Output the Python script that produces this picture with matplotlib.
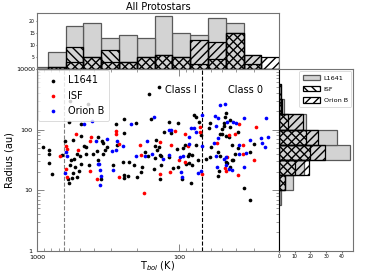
import numpy as np
import matplotlib
matplotlib.use('Agg')
import matplotlib.pyplot as plt

# ---- scatter data: T_bol (K) and radius (au) per region ----
l1641_tbol = [585, 438, 163, 600, 490, 279, 245, 203, 158, 490, 371, 245, 640, 560, 349, 147,
              908, 829, 829, 829, 785, 668, 585, 609, 594, 569, 525, 560, 578, 553, 525, 502,
              490, 511, 540, 471, 455, 452, 435, 407, 380, 371, 342, 333, 342, 324, 357, 294,
              276, 248, 245, 245, 229, 225, 209, 200, 185, 182, 175, 166, 149, 149, 150, 139,
              47, 48, 79, 76, 119, 103, 129, 115, 73, 71, 61, 62, 49, 49, 44, 44,
              50, 52, 50, 47, 45, 143, 137, 134, 139, 119, 134, 137, 111, 102, 104, 90,
              87, 85, 82, 85, 82, 92, 94, 76, 74, 96, 83, 65.5, 61, 60, 54, 52,
              47, 46, 43, 42, 53, 54, 44, 41, 39, 43, 32, 35.5, 32, 30, 39]
l1641_rad = [299, 261, 385, 134, 122, 125, 147, 129, 149, 78, 76, 89, 65, 67, 65, 67,
             51, 46, 39, 28, 18.4, 38, 26, 15.1, 12.9, 15.7, 16.6, 19.4, 31, 33, 39, 37,
             27, 20.7, 24, 53, 51, 39, 26, 40, 45, 31, 39, 46, 59, 52, 15.2, 26,
             55, 29, 17.7, 15.7, 17.3, 29, 26, 16.6, 20, 24, 43, 37, 54, 34, 22, 508,
             189, 163, 173, 163, 134, 127, 92, 89, 131, 81, 129, 105, 129, 114, 144, 111,
             101, 86, 83, 78, 76, 46, 38, 37, 52, 35, 26, 15.2, 23, 24, 48, 27,
             37, 40, 38, 27.7, 26, 55, 49, 55, 32, 15.2, 12.9, 33, 35, 52, 43, 36,
             29, 28, 31, 32, 21, 17.3, 24, 40, 49, 55, 43, 10.7, 6.9, 58, 92]

isf_tbol = [531, 421, 279, 279, 424, 693, 624, 617, 624, 617, 519, 424, 380, 266, 266, 190,
            187, 177, 138, 108, 92, 72, 72, 38, 41, 29, 45, 114, 117, 137, 92, 100,
            87, 69, 54.5, 46, 48, 47, 38.5, 36, 30, 36]
isf_rad = [83, 74, 94, 86, 65, 37, 53, 47, 22, 16.6, 46, 20.7, 15.2, 58, 16.6, 55,
           38, 8.9, 63, 96, 86, 111, 92, 122, 86, 111, 81, 55, 20, 18.2, 29, 31,
           53, 18.2, 60, 35, 23, 21, 17.7, 40, 31, 55]

orionb_tbol = [467, 410, 220, 150, 385, 322, 276, 170, 627, 617, 634, 374, 367, 361, 357, 359,
               299, 281, 291, 251, 203, 175, 157, 52, 48, 56, 54, 35.5, 24.7, 70, 118, 115,
               83, 79, 55, 46, 42, 40, 54, 85, 32, 26.9, 23.8, 76, 130, 118, 99.5, 95,
               85, 69, 98, 96, 74, 71, 57, 55, 49, 47, 47, 54.5, 45, 43, 35, 34,
               26.3, 25, 38, 38]
orionb_rad = [123, 137, 122, 161, 65, 69, 65, 65, 42, 37, 19, 27, 27, 21.5, 17.3, 12.1,
              45, 46, 21.5, 54, 37, 37, 39, 254, 264, 169, 157, 153, 157, 173, 98, 98,
              107, 107, 114, 134, 131, 127, 72, 74, 68, 72, 76, 92, 33, 38, 35, 36,
              58, 53, 19.7, 16.6, 19, 20.7, 59, 36, 33, 35, 26, 24, 22, 21.5, 24, 41,
              59, 51, 55, 40]

# ---- top histogram (all protostars), log10 T_bol bins, low -> high ----
tbol_edges_log = [1.3, 1.425, 1.55, 1.675, 1.8, 1.925, 2.05, 2.175, 2.3, 2.425,
                  2.55, 2.675, 2.8, 2.925, 3.05]
top_l1641 = [0, 6, 19, 21, 14, 15, 22, 13, 14, 13, 19, 18, 7, 1]
top_isf = [0, 2, 15, 4, 2, 5, 6, 5, 3, 8, 5, 9, 1, 0]
top_orionb = [5, 6, 15, 11, 12, 5, 6, 5, 3, 3, 5, 3, 1, 0]

# ---- right histogram, log10 radius bins, low -> high ----
rad_edges_log = [0.75, 1.0, 1.25, 1.5, 1.75, 2.0, 2.25, 2.5, 2.75]
right_l1641 = [1, 9, 16, 45, 37, 17, 3, 1]
right_isf = [0, 4, 10, 20, 17, 6, 1, 0]
right_orionb = [0, 4, 19, 29, 25, 15, 2, 1]

spine_col = '0.45'

fig = plt.figure(figsize=(3.72, 2.79), dpi=100)
ax = fig.add_axes([0.0995, 0.1014, 0.6505, 0.6513])
axt = fig.add_axes([0.0995, 0.7527, 0.6505, 0.2007])
axr = fig.add_axes([0.75, 0.1014, 0.2, 0.6513])

# main scatter
ax.scatter(l1641_tbol, l1641_rad, s=7, c='k', lw=0, label='L1641', zorder=3)
ax.scatter(isf_tbol, isf_rad, s=7, c='r', lw=0, label='ISF', zorder=3)
ax.scatter(orionb_tbol, orionb_rad, s=7, c='b', lw=0, label='Orion B', zorder=3)
ax.axvline(650, color='0.5', ls='--', lw=0.8)
ax.axvline(70, color='k', ls='--', lw=0.8)
ax.set_xscale('log')
ax.set_yscale('log')
ax.set_xlim(1000, 20)
ax.set_ylim(1, 1000)
ax.set_xticks([1000, 100])
ax.set_xticklabels(['1000', '100'])
ax.set_yticks([1, 10, 100, 1000])
ax.set_yticklabels(['1', '10', '100', '1000'])
ax.tick_params(which='both', direction='in', top=True, right=True, labelsize=4.6,
               color=spine_col)
ax.tick_params(axis='x', pad=3)
ax.tick_params(axis='y', pad=3.5)
ax.tick_params(which='major', length=5, width=0.6)
ax.tick_params(which='minor', length=2.5, width=0.5)
ax.set_xlabel('T$_{bol}$ (K)', fontsize=7, labelpad=0)
ax.set_ylabel('Radius (au)', fontsize=7, labelpad=1)
ax.text(0.66, 0.885, 'Class I', transform=ax.transAxes, ha='right', va='center', fontsize=7)
ax.text(0.79, 0.885, 'Class 0', transform=ax.transAxes, ha='left', va='center', fontsize=7)
leg = ax.legend(loc='upper left', fontsize=7, borderaxespad=0.15, labelspacing=0.55,
                handletextpad=0.5, markerscale=1.0, scatterpoints=1, borderpad=0.5)
leg.get_frame().set_linewidth(0.6)
for sp in ax.spines.values():
    sp.set_color(spine_col)
    sp.set_linewidth(0.8)

# top histogram
tb = 10 ** np.array(tbol_edges_log)
tc = np.sqrt(tb[:-1] * tb[1:])
axt.hist(tc, bins=tb, weights=top_l1641, color='lightgray', edgecolor='0.35', lw=0.9)
axt.hist(tc, bins=tb, weights=top_isf, fill=False, hatch='\\\\\\\\', edgecolor='k', lw=0.9)
axt.hist(tc, bins=tb, weights=top_orionb, fill=False, hatch='////', edgecolor='k', lw=0.9)
axt.set_xscale('log')
axt.set_xlim(1000, 20)
axt.set_ylim(0, 23.2)
axt.set_yticks([0, 5, 10, 15, 20])
axt.tick_params(axis='x', which='both', bottom=False, labelbottom=False)
axt.tick_params(axis='y', labelsize=3.3, length=1, pad=0.5, color=spine_col)
axt.set_title('All Protostars', fontsize=7, pad=2)
for sp in axt.spines.values():
    sp.set_color(spine_col)
    sp.set_linewidth(0.8)

# right histogram
rb = 10 ** np.array(rad_edges_log)
rc = np.sqrt(rb[:-1] * rb[1:])
axr.hist(rc, bins=rb, weights=right_l1641, orientation='horizontal', color='lightgray',
         edgecolor='0.35', lw=0.9, label='L1641')
axr.hist(rc, bins=rb, weights=right_isf, orientation='horizontal', fill=False,
         hatch='\\\\\\\\', edgecolor='k', lw=0.9, label='ISF')
axr.hist(rc, bins=rb, weights=right_orionb, orientation='horizontal', fill=False,
         hatch='////', edgecolor='k', lw=0.9, label='Orion B')
axr.set_yscale('log')
axr.set_ylim(1, 1000)
axr.set_xlim(0, 47.3)
axr.set_xticks([0, 10, 20, 30, 40])
axr.tick_params(axis='y', which='both', left=False, labelleft=False)
axr.tick_params(axis='x', labelsize=3.3, length=1.5, pad=1, color=spine_col)
lr = axr.legend(loc='upper right', fontsize=4.6, borderaxespad=0.3, handlelength=2.6,
                handleheight=0.9, labelspacing=0.85, handletextpad=0.6, borderpad=0.6)
lr.get_frame().set_linewidth(0.6)
for sp in axr.spines.values():
    sp.set_color(spine_col)
    sp.set_linewidth(0.8)
axr.spines['left'].set_color('k')

fig.savefig('out.png', dpi=100)
